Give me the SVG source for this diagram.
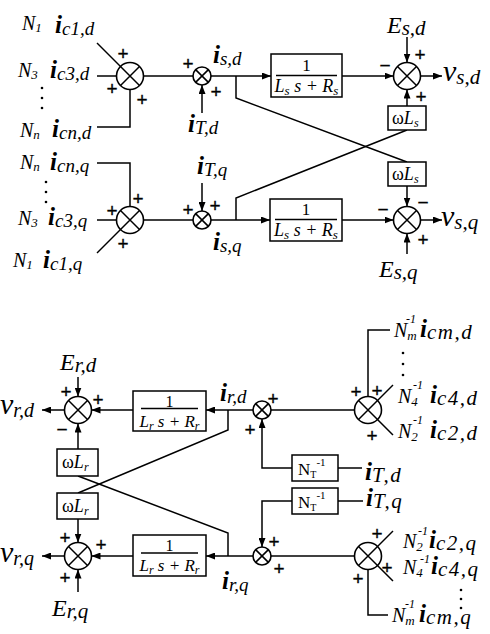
<svg xmlns="http://www.w3.org/2000/svg" width="490" height="634" viewBox="0 0 490 634">
<style>
.ln{fill:none;stroke:#000;stroke-width:1.5}
.ar{fill:none;stroke:#000;stroke-width:1.5;marker-end:url(#ah)}
.sum circle{fill:#fff;stroke:#000;stroke-width:1.6}
.sum path{stroke:#000;stroke-width:1.5;fill:none}
.box{fill:#fff;stroke:#000;stroke-width:1.5}
.t{font-family:"Liberation Serif",serif;font-style:italic;fill:#000}
.u{font-family:"Liberation Serif",serif;font-style:normal;fill:#000}
.i{font-weight:bold;font-size:25px}
.sb{font-size:19px}
.N{font-size:20px}
.ns{font-size:13px}
.sp{font-size:12px}
.v{font-size:30px}
.E{font-size:24px}
.sbw{font-size:21px;letter-spacing:1.5px}
.pm{font-family:"Liberation Sans",Arial,sans-serif;font-size:19px;text-anchor:middle;fill:#000;stroke:#000;stroke-width:0.3}
.fr{font-size:18px}
.c{text-anchor:middle}
</style>
<defs>
<marker id="ah" markerWidth="9" markerHeight="7" refX="9" refY="3.5" orient="auto" markerUnits="userSpaceOnUse">
<path d="M0,0 L9,3.5 L0,7 z" fill="#000"/>
</marker>
</defs>

<g id="connectors">
<!-- stator d -->
<path class="ln" d="M97,43 L120.5,66.5"/>
<path class="ln" d="M97,76 H116.5"/>
<path class="ln" d="M97,127 H130 V89.5"/>
<path class="ln" d="M143.5,76 H193"/>
<path class="ar" d="M202,113 V85"/>
<path class="ar" d="M211,76 H271"/>
<path class="ln" d="M236,76 V98 L407,162"/>
<path class="ar" d="M342,76 H393.5"/>
<path class="ar" d="M407,37 V62.5"/>
<path class="ar" d="M420.5,76 H442"/>
<path class="ar" d="M407,106 V89.5"/>
<path class="ln" d="M407,130 L236,198 V220"/>
<!-- stator q -->
<path class="ln" d="M97,163 H130 V206.5"/>
<path class="ln" d="M97,220 H116.5"/>
<path class="ln" d="M97,253 L120.5,229.5"/>
<path class="ln" d="M143.5,220 H193"/>
<path class="ar" d="M202,183 V211"/>
<path class="ar" d="M211,220 H270"/>
<path class="ar" d="M342,220 H393.5"/>
<path class="ar" d="M407,186 V206.5"/>
<path class="ar" d="M407,254 V233.5"/>
<path class="ar" d="M420.5,220 H442"/>
<!-- rotor d -->
<path class="ar" d="M78,377 V396.5"/>
<path class="ar" d="M64.5,410 H42"/>
<path class="ar" d="M78,449 V423.5"/>
<path class="ar" d="M133,410 H91.5"/>
<path class="ar" d="M253,410 H206"/>
<path class="ln" d="M228,410 V430 L78,493"/>
<path class="ln" d="M354.5,410 H271"/>
<path class="ar" d="M292,468 H262 V419"/>
<path class="ln" d="M338,468 H362"/>
<path class="ln" d="M390,330 H368 V396.5"/>
<path class="ln" d="M393,385 L377.5,400.5"/>
<path class="ln" d="M393,435 L377.5,419.5"/>
<!-- rotor q -->
<path class="ln" d="M78,476 L228,533 V556"/>
<path class="ar" d="M78,519 V542.5"/>
<path class="ar" d="M78,592 V569.5"/>
<path class="ar" d="M64.5,556 H42"/>
<path class="ar" d="M133,556 H91.5"/>
<path class="ar" d="M253,556 H206"/>
<path class="ln" d="M354.5,556 H271"/>
<path class="ar" d="M292,501 H262 V547"/>
<path class="ln" d="M338,501 H363"/>
<path class="ln" d="M393,531 L377.5,546.5"/>
<path class="ln" d="M393,581 L377.5,565.5"/>
<path class="ln" d="M368,569.5 V615 H388"/>
</g>

<!-- stator d nodes -->
<g id="sum_sd_in" class="sum"><circle cx="130" cy="76" r="13.5"/><path d="M120.5,66.5 L139.5,85.5 M139.5,66.5 L120.5,85.5"/></g>
<g id="sum_sd_t" class="sum"><circle cx="202" cy="76" r="9"/><path d="M195.6,69.6 L208.4,82.4 M208.4,69.6 L195.6,82.4"/></g>
<g id="blk_sd"><rect class="box" x="271" y="54" width="71" height="43"/><text class="u c" x="306.5" y="71" font-size="17">1</text><path class="ln" d="M276,75.5 H337"/><text class="t fr c" x="306.5" y="92">L<tspan font-size="13" dy="3">s</tspan><tspan dy="-3"> s + R</tspan><tspan font-size="13" dy="3">s</tspan></text></g>
<g id="sum_sd_out" class="sum"><circle cx="407" cy="76" r="13.5"/><path d="M397.5,66.5 L416.5,85.5 M416.5,66.5 L397.5,85.5"/></g>
<g id="wLs_d"><rect class="box" x="388" y="106" width="38" height="24"/><text class="u" x="392" y="124" font-size="18">ω<tspan class="t">L</tspan><tspan class="t" font-size="12" dy="3">s</tspan></text></g>
<g id="wLs_q"><rect class="box" x="388" y="162" width="38" height="24"/><text class="u" x="392" y="180" font-size="18">ω<tspan class="t">L</tspan><tspan class="t" font-size="12" dy="3">s</tspan></text></g>
<!-- stator q nodes -->
<g id="sum_sq_in" class="sum"><circle cx="130" cy="220" r="13.5"/><path d="M120.5,210.5 L139.5,229.5 M139.5,210.5 L120.5,229.5"/></g>
<g id="sum_sq_t" class="sum"><circle cx="202" cy="220" r="9"/><path d="M195.6,213.6 L208.4,226.4 M208.4,213.6 L195.6,226.4"/></g>
<g id="blk_sq"><rect class="box" x="270" y="199" width="72" height="42"/><text class="u c" x="306" y="215" font-size="17">1</text><path class="ln" d="M275,219.5 H337"/><text class="t fr c" x="306" y="236">L<tspan font-size="13" dy="3">s</tspan><tspan dy="-3"> s + R</tspan><tspan font-size="13" dy="3">s</tspan></text></g>
<g id="sum_sq_out" class="sum"><circle cx="407" cy="220" r="13.5"/><path d="M397.5,210.5 L416.5,229.5 M416.5,210.5 L397.5,229.5"/></g>

<!-- rotor d nodes -->
<g id="sum_rd_out" class="sum"><circle cx="78" cy="410" r="13.5"/><path d="M68.5,400.5 L87.5,419.5 M87.5,400.5 L68.5,419.5"/></g>
<g id="blk_rd"><rect class="box" x="133" y="391" width="73" height="40"/><text class="u c" x="169.5" y="407" font-size="16">1</text><path class="ln" d="M141,408.5 H198"/><text class="t c" x="169.5" y="427" font-size="17">L<tspan font-size="12" dy="3">r</tspan><tspan dy="-3"> s + R</tspan><tspan font-size="12" dy="3">r</tspan></text></g>
<g id="wLr_d"><rect class="box" x="57" y="449" width="41" height="27"/><text class="u" x="62" y="468" font-size="18">ω<tspan class="t">L</tspan><tspan class="t" font-size="12" dy="3">r</tspan></text></g>
<g id="sum_rd_t" class="sum"><circle cx="262" cy="410" r="9"/><path d="M255.6,403.6 L268.4,416.4 M268.4,403.6 L255.6,416.4"/></g>
<g id="sum_rd_in" class="sum"><circle cx="368" cy="410" r="13.5"/><path d="M358.5,400.5 L377.5,419.5 M377.5,400.5 L358.5,419.5"/></g>
<g id="NT_d"><rect class="box" x="292" y="455" width="46" height="26"/><text class="u" x="298" y="475" font-size="17">N<tspan font-size="10" dy="3">T</tspan><tspan font-size="11" dy="-12">-1</tspan></text></g>
<g id="NT_q"><rect class="box" x="292" y="488" width="46" height="26"/><text class="u" x="298" y="508" font-size="17">N<tspan font-size="10" dy="3">T</tspan><tspan font-size="11" dy="-12">-1</tspan></text></g>
<!-- rotor q nodes -->
<g id="wLr_q"><rect class="box" x="57" y="493" width="41" height="26"/><text class="u" x="62" y="512" font-size="18">ω<tspan class="t">L</tspan><tspan class="t" font-size="12" dy="3">r</tspan></text></g>
<g id="sum_rq_out" class="sum"><circle cx="78" cy="556" r="13.5"/><path d="M68.5,546.5 L87.5,565.5 M87.5,546.5 L68.5,565.5"/></g>
<g id="blk_rq"><rect class="box" x="133" y="535" width="73" height="41"/><text class="u c" x="169.5" y="551" font-size="16">1</text><path class="ln" d="M141,553 H198"/><text class="t c" x="169.5" y="571" font-size="17">L<tspan font-size="12" dy="3">r</tspan><tspan dy="-3"> s + R</tspan><tspan font-size="12" dy="3">r</tspan></text></g>
<g id="sum_rq_t" class="sum"><circle cx="262" cy="556" r="9"/><path d="M255.6,549.6 L268.4,562.4 M268.4,549.6 L255.6,562.4"/></g>
<g id="sum_rq_in" class="sum"><circle cx="368" cy="556" r="13.5"/><path d="M358.5,546.5 L377.5,565.5 M377.5,546.5 L358.5,565.5"/></g>

<!-- labels -->
<g id="labels">
<text class="t N" x="22" y="30">N<tspan class="ns" dy="2">1</tspan></text>
<text class="t" x="55" y="33"><tspan class="i">i</tspan><tspan class="sb" dy="2">c1,d</tspan></text>
<text class="t N" x="18" y="77">N<tspan class="ns" dy="2">3</tspan></text>
<text class="t" x="50" y="78"><tspan class="i">i</tspan><tspan class="sb" dy="2">c3,d</tspan></text>
<g><circle cx="42" cy="88" r="1.3"/><circle cx="42" cy="98" r="1.3"/><circle cx="42" cy="108" r="1.3"/></g>
<text class="t N" x="20" y="137">N<tspan class="ns" dy="2">n</tspan></text>
<text class="t" x="52" y="137"><tspan class="i">i</tspan><tspan class="sb" dy="2">cn,d</tspan></text>
<text class="t" x="213" y="63"><tspan class="i">i</tspan><tspan class="sb" dy="2">s,d</tspan></text>
<text class="t" x="188" y="132"><tspan class="i">i</tspan><tspan class="sb" dy="2">T,d</tspan></text>
<text class="t" x="387" y="33"><tspan class="E">E</tspan><tspan font-size="21" dy="2">s,d</tspan></text>
<text class="t" x="443" y="81"><tspan class="v">v</tspan><tspan font-size="21" dy="3">s,d</tspan></text>

<text class="t N" x="20" y="169">N<tspan class="ns" dy="2">n</tspan></text>
<text class="t" x="50" y="170"><tspan class="i">i</tspan><tspan class="sb" dy="2">cn,q</tspan></text>
<g><circle cx="46" cy="182" r="1.3"/><circle cx="46" cy="192" r="1.3"/><circle cx="46" cy="202" r="1.3"/></g>
<text class="t N" x="18" y="225">N<tspan class="ns" dy="2">3</tspan></text>
<text class="t" x="48" y="225"><tspan class="i">i</tspan><tspan class="sb" dy="2">c3,q</tspan></text>
<text class="t N" x="13" y="267">N<tspan class="ns" dy="2">1</tspan></text>
<text class="t" x="43" y="268"><tspan class="i">i</tspan><tspan class="sb" dy="2">c1,q</tspan></text>
<text class="t" x="197" y="174"><tspan class="i">i</tspan><tspan class="sb" dy="2">T,q</tspan></text>
<text class="t" x="213" y="250"><tspan class="i">i</tspan><tspan class="sb" dy="2">s,q</tspan></text>
<text class="t" x="379" y="277"><tspan class="E">E</tspan><tspan font-size="21" dy="2">s,q</tspan></text>
<text class="t" x="441" y="226"><tspan class="v">v</tspan><tspan font-size="21" dy="3">s,q</tspan></text>

<text class="t" x="60" y="370"><tspan class="E">E</tspan><tspan font-size="21" dy="2">r,d</tspan></text>
<text class="t" x="0" y="414"><tspan class="v">v</tspan><tspan font-size="20" dy="3">r,d</tspan></text>
<text class="t" x="220" y="401"><tspan class="i">i</tspan><tspan class="sb" dy="2">r,d</tspan></text>
<text class="t" x="365" y="480"><tspan class="i" font-size="26">i</tspan><tspan class="sbw" dy="2">T,d</tspan></text>
<text class="t" x="366" y="506"><tspan class="i" font-size="26">i</tspan><tspan class="sbw" dy="2">T,q</tspan></text>

<text class="t N" x="394" y="337">N<tspan class="ns" dy="3">m</tspan><tspan class="sp" x="406" dy="-17">-1</tspan></text>
<text class="t" x="420" y="337"><tspan class="i">i</tspan><tspan class="sbw" dy="2">cm,d</tspan></text>
<g><circle cx="403" cy="353" r="1.3"/><circle cx="403" cy="364" r="1.3"/><circle cx="403" cy="375" r="1.3"/></g>
<text class="t N" x="398" y="403">N<tspan class="ns" dy="3">4</tspan><tspan class="sp" x="413" dy="-17">-1</tspan></text>
<text class="t" x="430" y="403"><tspan class="i">i</tspan><tspan class="sbw" dy="2">c4,d</tspan></text>
<text class="t N" x="398" y="438">N<tspan class="ns" dy="3">2</tspan><tspan class="sp" x="413" dy="-17">-1</tspan></text>
<text class="t" x="430" y="438"><tspan class="i">i</tspan><tspan class="sbw" dy="2">c2,d</tspan></text>

<text class="t N" x="403" y="548">N<tspan class="ns" dy="3">2</tspan><tspan class="sp" x="418" dy="-16">-1</tspan></text>
<text class="t" x="429" y="548"><tspan class="i">i</tspan><tspan class="sbw" dy="2">c2,q</tspan></text>
<text class="t N" x="403" y="574">N<tspan class="ns" dy="3">4</tspan><tspan class="sp" x="420" dy="-14">-1</tspan></text>
<text class="t" x="431" y="574"><tspan class="i">i</tspan><tspan class="sbw" dy="2">c4,q</tspan></text>
<g><circle cx="461" cy="590" r="1.3"/><circle cx="461" cy="599" r="1.3"/><circle cx="461" cy="608" r="1.3"/></g>
<text class="t N" x="392" y="622">N<tspan class="ns" dy="3">m</tspan><tspan class="sp" x="405" dy="-17">-1</tspan></text>
<text class="t" x="419" y="622"><tspan class="i">i</tspan><tspan class="sbw" dy="2">cm,q</tspan></text>

<text class="t" x="52" y="616"><tspan class="E">E</tspan><tspan font-size="21" dy="2">r,q</tspan></text>
<text class="t" x="0" y="562"><tspan class="v">v</tspan><tspan font-size="20" dy="3">r,q</tspan></text>
<text class="t" x="222" y="589"><tspan class="i">i</tspan><tspan class="sb" dy="2">r,q</tspan></text>
</g>

<g id="signs">
<text class="pm" x="123" y="60">+</text>
<text class="pm" x="112" y="95">+</text>
<text class="pm" x="142" y="106">+</text>
<text class="pm" x="188" y="70">+</text>
<text class="pm" x="216" y="98">+</text>
<text class="pm" x="385" y="72">−</text>
<text class="pm" x="420" y="61">+</text>
<text class="pm" x="421" y="103">+</text>

<text class="pm" x="138" y="205">+</text>
<text class="pm" x="112" y="217">+</text>
<text class="pm" x="123" y="250">+</text>
<text class="pm" x="188" y="216">+</text>
<text class="pm" x="215" y="212">+</text>
<text class="pm" x="383" y="216">−</text>
<text class="pm" x="423" y="209">−</text>
<text class="pm" x="423" y="246">+</text>

<text class="pm" x="66" y="398">+</text>
<text class="pm" x="98" y="406">+</text>
<text class="pm" x="62" y="436">−</text>
<text class="pm" x="273" y="405">+</text>
<text class="pm" x="250" y="436">+</text>
<text class="pm" x="356" y="398">+</text>
<text class="pm" x="377" y="397">+</text>
<text class="pm" x="372" y="442">+</text>

<text class="pm" x="65" y="544">+</text>
<text class="pm" x="101" y="551">+</text>
<text class="pm" x="65" y="584">+</text>
<text class="pm" x="274" y="548">+</text>
<text class="pm" x="279" y="575">+</text>
<text class="pm" x="377" y="540">+</text>
<text class="pm" x="387" y="574">+</text>
<text class="pm" x="358" y="585">+</text>
</g>
</svg>
